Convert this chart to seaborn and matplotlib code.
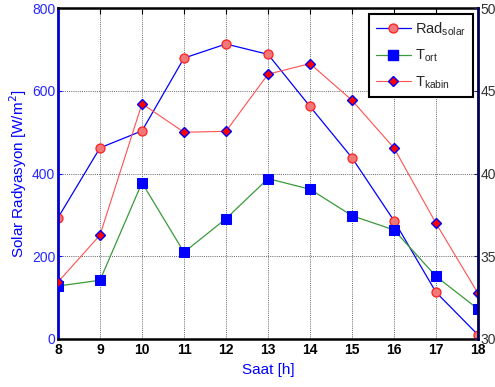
import numpy as np
import pandas as pd
import matplotlib
matplotlib.use("Agg")
import matplotlib.pyplot as plt
import seaborn as sns
from matplotlib.lines import Line2D

hours = [8, 9, 10, 11, 12, 13, 14, 15, 16, 17, 18]
rad_solar = [293, 462, 503, 679, 713, 688, 562, 438, 286, 113, 10]
t_ort = [33.2, 33.55, 39.44, 35.24, 37.27, 39.69, 39.05, 37.45, 36.59, 33.79, 31.81]
t_kabin = [33.44, 36.28, 44.22, 42.49, 42.55, 46.0, 46.64, 44.42, 41.54, 36.99, 32.76]
left_ticks = [0, 200, 400, 600, 800]
right_ticks = [30, 35, 40, 45, 50]

sns.set_style("white")
plt.rcParams['font.family'] = ['Liberation Sans', 'DejaVu Sans']

df = pd.DataFrame({"Saat": hours, "Rad": rad_solar, "Tort": t_ort, "Tkabin": t_kabin})

fig = plt.figure(figsize=(4.95, 3.87), dpi=100)
ax = fig.add_axes([58/495, 1-339/387, (478-58)/495, (339-8)/387])
ax2 = ax.twinx()

blue = "#0000ff"
green = "#3a9a3a"
red = "#ff5050"

ax.set_xlim(8, 18)
ax.set_ylim(0, 800)
ax2.set_ylim(30, 50)
ax.set_xticks(hours)
ax.set_yticks(left_ticks)
ax2.set_yticks(right_ticks)
ax.grid(True, color="#666666", linestyle=(0, (1, 1.2)), linewidth=0.7)
ax.set_axisbelow(True)

sty_rad = dict(color=blue, linewidth=0.9, marker="o", markersize=6.5,
               markerfacecolor="#f07878", markeredgecolor="#ff2020", markeredgewidth=0.9)
sty_ort = dict(color=green, linewidth=0.9, marker="s", markersize=6.5,
               markerfacecolor=blue, markeredgecolor=blue)
sty_kab = dict(color=red, linewidth=0.8, marker="D", markersize=5.5,
               markerfacecolor="#ff0000", markeredgecolor=blue, markeredgewidth=1.0)

sns.lineplot(data=df, x="Saat", y="Rad", ax=ax, legend=False, **sty_rad)
sns.lineplot(data=df, x="Saat", y="Tort", ax=ax2, legend=False, **sty_ort)
sns.lineplot(data=df, x="Saat", y="Tkabin", ax=ax2, legend=False, **sty_kab)

ax.set_xlabel("Saat [h]", color=blue, fontsize=11, labelpad=4)
ax.set_ylabel("Solar Radyasyon [W/m$^2$]", color=blue, fontsize=11, labelpad=2)
ax2.set_ylabel("")

ax.tick_params(axis="x", colors="black", labelsize=10, direction="in", length=4, top=True, pad=3)
ax.tick_params(axis="y", colors=blue, labelcolor="#2828ff", labelsize=10, direction="in", length=3, pad=2)
for lbl in ax.get_xticklabels():
    lbl.set_fontweight("bold")
ax2.tick_params(axis="y", colors="#202060", labelcolor="#333333", labelsize=10, direction="in", length=3, pad=2)

for s in ["top", "bottom"]:
    ax.spines[s].set_color("black")
    ax.spines[s].set_linewidth(1.8)
ax.spines["left"].set_color("#0000cc")
ax.spines["left"].set_linewidth(2)
ax.spines["right"].set_visible(False)
ax2.spines["right"].set_color("#000050")
ax2.spines["right"].set_linewidth(2)
for s in ["top", "bottom", "left"]:
    ax2.spines[s].set_visible(False)

handles = [Line2D([], [], **sty_rad), Line2D([], [], **sty_ort), Line2D([], [], **sty_kab)]
leg = ax2.legend(handles, [r"Rad$_{\mathregular{solar}}$", r"T$_{\mathregular{ort}}$", r"T$_{\mathregular{kabin}}$"],
                 loc="upper right", bbox_to_anchor=(0.988, 0.982), fancybox=False,
                 framealpha=1, edgecolor="black", fontsize=10.5, handlelength=2.4,
                 borderpad=0.45, labelspacing=0.65, handletextpad=0.3, borderaxespad=0)
leg.get_frame().set_linewidth(1.5)

fig.savefig("out.png", dpi=100)
